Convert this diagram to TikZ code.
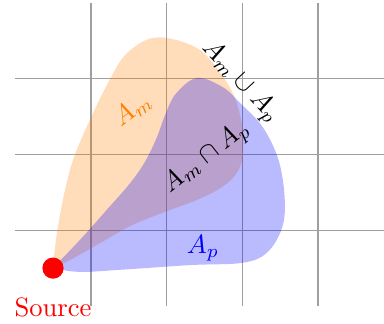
\documentclass[tikz,border=0pt]{standalone}
\begin{document}
\begin{tikzpicture}[
  gridline/.style={draw=gray!75, line width=0.5pt},
  amfill/.style={fill=orange, fill opacity=0.27},
  apfill/.style={fill=blue, fill opacity=0.27},
  setlabel/.style={inner sep=1pt}
]
\useasboundingbox (-0.2,-0.225) rectangle (4.87,4.04);
% grid
\foreach \x in {1,2,3,4} { \draw[gridline] (\x,0) -- (\x,4); }
\foreach \y in {1,2,3} { \draw[gridline] (0,\y) -- (4.87,\y); }
\coordinate (s) at (0.5,0.5);
% A_m region
\fill[amfill] plot[smooth, tension=0.6] coordinates {
 (0.5,0.5) (0.55,0.95) (0.66,1.54) (0.79,2.0) (1.03,2.55) (1.25,2.99)
 (1.45,3.31) (1.75,3.52) (2.05,3.53) (2.44,3.38) (2.72,3.06) (2.90,2.75)
 (3.0,2.35) (3.0,1.95) (2.90,1.72) (2.70,1.55) (2.40,1.40) (2.0,1.25)
 (1.55,1.07) (1.12,0.83) (0.75,0.62) (0.5,0.5)} -- cycle;
% A_p region
\fill[apfill] plot[smooth, tension=0.6] coordinates {
 (0.5,0.5) (0.89,0.91) (1.21,1.27) (1.50,1.60) (1.70,1.88) (1.86,2.20)
 (1.98,2.52) (2.12,2.80) (2.40,3.01) (2.74,2.89) (2.97,2.68) (3.27,2.36)
 (3.48,1.92) (3.56,1.40) (3.52,1.02) (3.32,0.70) (3.0,0.57) (2.31,0.54)
 (1.42,0.48) (0.85,0.45) (0.5,0.5)} -- cycle;
% labels
\node[setlabel, text=orange, rotate=37] (am) at (1.55,2.59) {$A_m$};
\node[setlabel, rotate=38] (cap) at (2.53,1.96) {$A_m\cap A_p$};
\node[setlabel, rotate=-47] (cup) at (2.97,2.96) {$A_m\cup A_p$};
\node[setlabel, text=blue] (ap) at (2.48,0.76) {$A_p$};
% source
\node[circle, fill=red, inner sep=0pt, minimum size=0.28cm] (src) at (s) {};
\node[text=red, inner sep=0pt] (srclabel) at (0.5,-0.02) {Source};
\end{tikzpicture}
\end{document}
